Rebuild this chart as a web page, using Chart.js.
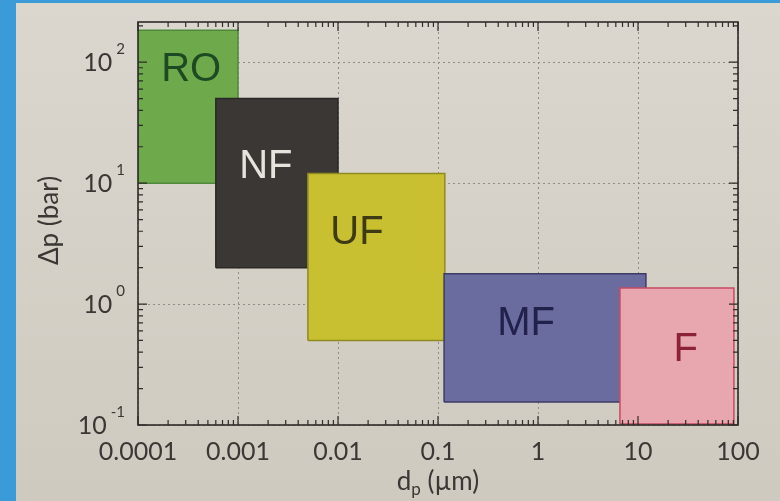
<!DOCTYPE html>
<html><head><meta charset="utf-8">
<script src="https://cdn.jsdelivr.net/npm/chart.js@4.4.1/dist/chart.umd.min.js"></script>
<style>html,body{margin:0;padding:0;background:#3b9ad8;}canvas{display:block}</style>
</head><body><canvas id="c" width="780" height="501"></canvas>
<script>
// ---- data ----
const processes = ['RO', 'NF', 'UF', 'MF', 'F'];
const dpMin = [0.0001, 0.0006, 0.005, 0.115, 6.6];   // µm
const dpMax = [0.001, 0.01, 0.117, 12, 91];
const pMin = [10, 2, 0.5, 0.155, 0.102];              // bar
const pMax = [184, 50, 12, 1.78, 1.36];
const labelDp = [0.00034, 0.0019, 0.0155, 0.76, 30];
const labelP = [89, 14, 4.0, 0.71, 0.43];
const xTicks = [0.0001, 0.001, 0.01, 0.1, 1, 10, 100];
const xTickLabels = ['0.0001', '0.001', '0.01', '0.1', '1', '10', '100'];
const yTicks = [0.1, 1, 10, 100];
const yTickExp = ['-1', '0', '1', '2'];
const xRange = [0.0001, 100];
const yRange = [0.1, 215];

// ---- styles ----
const fillColors = ['#6ea94c', '#3a3735', '#c8c030', '#6a6b9e', '#e8a7ae'];
const edgeColors = ['#4f8a3c', '#2a2826', '#8f8a22', '#3c3c66', '#c84a62'];
const textColors = ['#1d4a22', '#e6e3dc', '#3e3a14', '#22214c', '#8c2238'];

const datasets = processes.map((p, i) => ({
  label: p,
  data: [
    {x: dpMin[i], y: pMin[i]}, {x: dpMax[i], y: pMin[i]},
    {x: dpMax[i], y: pMax[i]}, {x: dpMin[i], y: pMax[i]},
    {x: dpMin[i], y: pMin[i]}
  ],
  showLine: true,
  fill: 'shape',
  backgroundColor: fillColors[i],
  borderColor: edgeColors[i],
  borderWidth: 1.5,
  pointRadius: 0,
  tension: 0,
  order: processes.length - i
}));

const paperPlugin = {
  id: 'paper',
  beforeDraw(chart) {
    const ctx = chart.ctx;
    ctx.save();
    ctx.fillStyle = '#3b9ad8';
    ctx.fillRect(0, 0, chart.width, chart.height);
    const g = ctx.createLinearGradient(0, 0, 0, chart.height);
    g.addColorStop(0, '#dbd7ce');
    g.addColorStop(1, '#cfcac0');
    ctx.fillStyle = g;
    ctx.fillRect(16, 3, chart.width - 16, chart.height - 3);
    ctx.restore();
  }
};

const frame = {
  id: 'frame',
  afterDatasetsDraw(chart) {
    const {ctx, chartArea: a, scales: {x, y}} = chart;
    ctx.save();
    // box labels
    ctx.font = '40px "Liberation Sans", Arial, sans-serif';
    ctx.textAlign = 'center';
    ctx.textBaseline = 'middle';
    processes.forEach((p, i) => {
      ctx.fillStyle = textColors[i];
      ctx.fillText(p, x.getPixelForValue(labelDp[i]), y.getPixelForValue(labelP[i]) + 2);
    });
    // frame
    ctx.strokeStyle = '#2e2b29';
    ctx.lineWidth = 1.6;
    ctx.strokeRect(a.left, a.top, a.right - a.left, a.bottom - a.top);
    // ticks inside
    ctx.lineWidth = 1.2;
    ctx.beginPath();
    const xl = Math.log10(xRange[0]), xh = Math.log10(xRange[1]);
    for (let d = Math.floor(xl); d <= xh; d++) {
      for (let k = 1; k <= 9; k++) {
        const v = k * Math.pow(10, d);
        if (v < xRange[0] * 0.999 || v > xRange[1] * 1.001) continue;
        const px = x.getPixelForValue(v);
        const len = k === 1 ? 9 : 5;
        ctx.moveTo(px, a.bottom); ctx.lineTo(px, a.bottom - len);
        ctx.moveTo(px, a.top); ctx.lineTo(px, a.top + len);
      }
    }
    const yl = Math.log10(yRange[0]), yh = Math.log10(yRange[1]);
    for (let d = Math.floor(yl); d <= yh; d++) {
      for (let k = 1; k <= 9; k++) {
        const v = k * Math.pow(10, d);
        if (v < yRange[0] * 0.999 || v > yRange[1] * 1.001) continue;
        const py = y.getPixelForValue(v);
        const len = k === 1 ? 9 : 5;
        ctx.moveTo(a.left, py); ctx.lineTo(a.left + len, py);
        ctx.moveTo(a.right, py); ctx.lineTo(a.right - len, py);
      }
    }
    ctx.stroke();

    // y tick labels with superscripts
    ctx.fillStyle = '#3a3734';
    ctx.textBaseline = 'middle';
    ctx.textAlign = 'left';
    yTicks.forEach((v, i) => {
      const py = y.getPixelForValue(v);
      ctx.font = '25px Lato, "DejaVu Sans", sans-serif';
      const w1 = ctx.measureText('10').width;
      ctx.font = '15px Lato, "DejaVu Sans", sans-serif';
      const w2 = ctx.measureText(yTickExp[i]).width;
      const right = a.left - 13;
      const x0 = right - w1 - w2 - 4;
      ctx.font = '25px Lato, "DejaVu Sans", sans-serif';
      ctx.fillText('10', x0, py + 1);
      ctx.font = '15px Lato, "DejaVu Sans", sans-serif';
      ctx.fillText(yTickExp[i], x0 + w1 + 4, py - 13);
    });

    // y axis title
    ctx.save();
    ctx.translate(50, (a.top + a.bottom) / 2 - 3);
    ctx.rotate(-Math.PI / 2);
    ctx.textAlign = 'center';
    ctx.font = '26px Lato, "DejaVu Sans", sans-serif';
    ctx.fillText('Δp (bar)', 0, 0);
    ctx.restore();

    // x axis title with subscript
    ctx.textBaseline = 'alphabetic';
    ctx.font = '26px Lato, "DejaVu Sans", sans-serif';
    const wd = ctx.measureText('d').width;
    const wr = ctx.measureText(' (µm)').width;
    ctx.font = '17px Lato, "DejaVu Sans", sans-serif';
    const wp = ctx.measureText('p').width;
    const cx = (a.left + a.right) / 2;
    let sx = cx - (wd + wp + wr) / 2;
    const base = 490;
    ctx.font = '26px Lato, "DejaVu Sans", sans-serif';
    ctx.fillText('d', sx, base);
    ctx.font = '17px Lato, "DejaVu Sans", sans-serif';
    ctx.fillText('p', sx + wd, base + 5);
    ctx.font = '26px Lato, "DejaVu Sans", sans-serif';
    ctx.fillText(' (µm)', sx + wd + wp, base);
    ctx.restore();
  }
};

new Chart(document.getElementById('c'), {
  type: 'scatter',
  data: {datasets},
  options: {
    responsive: false,
    animation: false,
    layout: {padding: {left: 138, right: 42, top: 22, bottom: 22}},
    plugins: {legend: {display: false}, tooltip: {enabled: false}},
    scales: {
      x: {
        type: 'logarithmic',
        min: xRange[0], max: xRange[1],
        afterBuildTicks: s => { s.ticks = xTicks.map(v => ({value: v, major: true})); },
        ticks: {
          autoSkip: false, maxRotation: 0, padding: 12,
          font: {family: 'Lato, "DejaVu Sans", sans-serif', size: 25},
          color: '#3a3734',
          callback: (v, i) => xTickLabels[i]
        },
        grid: {color: '#8f8c86', lineWidth: 1, drawTicks: false},
        border: {display: false, dash: [2, 3]}
      },
      y: {
        type: 'logarithmic',
        min: yRange[0], max: yRange[1],
        afterBuildTicks: s => { s.ticks = yTicks.map(v => ({value: v, major: true})); },
        ticks: {display: false},
        grid: {color: '#8f8c86', lineWidth: 1, drawTicks: false},
        border: {display: false, dash: [2, 3]}
      }
    }
  },
  plugins: [paperPlugin, frame]
});
</script>
</body></html>
